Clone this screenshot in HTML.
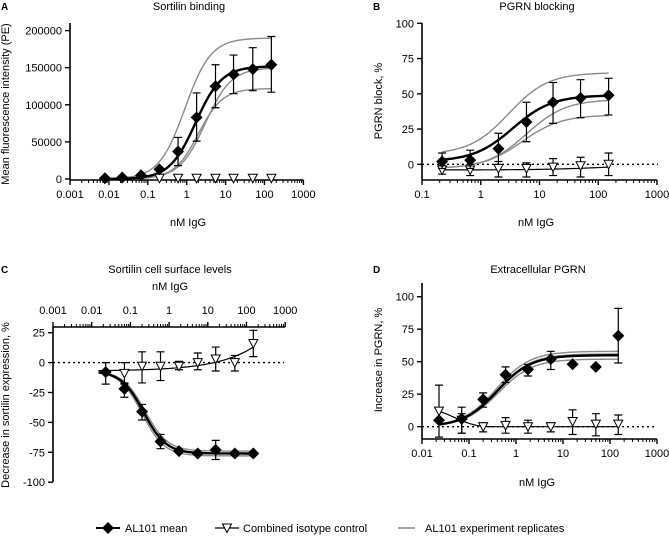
<!DOCTYPE html>
<html><head><meta charset="utf-8">
<style>
html,body{margin:0;padding:0;background:#fff;}
svg{display:block;font-family:"Liberation Sans",Arial,sans-serif;}
</style></head>
<body>
<svg id="fig" width="669" height="536" viewBox="0 0 669 536" xmlns="http://www.w3.org/2000/svg"></svg>
<script>
// ---- Data ----
// Panel A: Sortilin binding
const aDoses = [0.0079,0.022,0.067,0.2,0.6,1.8,5.5,16,50,150];
const aMean = [1000,2000,5000,13000,37000,83000,125000,141000,148000,154000];
const aErrLo = [null,null,null,null,18000,51000,96000,115000,119000,117000];
const aErrHi = [null,null,null,null,56000,116000,154000,167000,177000,192000];
const aIsoDoses = [0.2,0.6,1.8,5.5,16,50,150];
const aIso = [1000,1000,1000,1000,1000,1000,1000];
const aMeanFit = [0,152000,1.7,1.3];           // bottom, top, ec50, hill
const aRepFits = [[0,190000,0.9,1.3],[0,122000,2.0,1.4],[0,150000,3.0,1.3]];

// Panel B: PGRN blocking
const bDoses = [0.22,0.66,2,6,17,50,150];
const bMean = [2,3,11,30,44,47,49];
const bErrLo = [-3,-3,0,16,29,33,35];
const bErrHi = [8,10,22,44,58,60,61];
const bIso = [-4,-4,-3,-3,-2,-1,0];
const bIsoLo = [-7,-8,-9,-9,-8,-9,-8];
const bIsoHi = [-1,0,2,1,4,5,8];
const bMeanFit = [2,49,3.5,1.3];
const bRepFits = [[7,65,3,1.3],[-3,46,6,1.3],[-3,35,5,1.3]];
const bIsoFit = [-4,0,150,0.8];

// Panel C: Sortilin cell surface levels
const cDoses = [0.023,0.07,0.2,0.6,1.8,5.5,16,50,150];
const cMean = [-8,-22,-41,-66,-74,-76,-73,-76,-76];
const cErrLo = [-18,-29,-48,-72,null,null,-81,null,null];
const cErrHi = [0,-17,-35,-60,null,null,-65,null,null];
const cIsoDoses = [0.07,0.2,0.6,1.8,5.5,16,50,150];
const cIso = [-9,-3,-3,-3,0,3,0,16];
const cIsoLo = [-18,-17,-15,-6,-6,-7,-7,5];
const cIsoHi = [0,9,9,1,8,13,6,27];
const cMeanFit = [-7,-76,0.22,1.5];
const cRepFits = [[-7,-78,0.2,1.5],[-7,-74,0.24,1.5]];
const cIsoFit = [-7,20,150,0.45]; // base, amp, ref, exponent

// Panel D: Extracellular PGRN
const dDoses = [0.023,0.07,0.2,0.6,1.8,5.5,16,50,150];
const dMean = [5,6,21,40,44,52,48,46,70];
const dErrLo = [null,-5,15,34,39,44,null,null,49];
const dErrHi = [null,15,26,46,48,58,null,null,91];
const dIso = [12,5,0,1,0,0,4,2,2];
const dIsoLo = [-8,-5,-4,-5,-5,-4,-6,-7,-6];
const dIsoHi = [32,10,3,7,5,3,13,10,9];
const dMeanFit = [0,55,0.4,1.2];
const dRepFits = [[0,58,0.38,1.2],[0,52,0.42,1.2],[0,56,0.4,1.2]];

// ---- Drawing ----
const NS="http://www.w3.org/2000/svg";
const svg=document.getElementById('fig');
function el(tag,attrs,parent){const e=document.createElementNS(NS,tag);for(const k in attrs)e.setAttribute(k,attrs[k]);(parent||svg).appendChild(e);return e;}
function txt(s,attrs,parent){const t=el('text',attrs,parent);t.textContent=s;return t;}
function f4(p,x){return p[0]+(p[1]-p[0])/(1+Math.pow(p[2]/x,p[3]));}

function panel(cfg){
  const g=el('g',{});
  
  
  const X=v=>cfg.x0+(Math.log10(v)-cfg.lx0)*cfg.dec;
  const Y=v=>cfg.y0-(v)*cfg.ky;
  // letter & title
  const L=txt(cfg.letter,{x:cfg.letterX,y:cfg.letterY,'font-size':10,'font-weight':'bold'},g);
  
  const T=txt(cfg.title,{x:cfg.titleX,y:cfg.titleY,'font-size':11,'text-anchor':'middle'},g);
  
  // y axis
  const ya=el('line',{x1:cfg.x0,x2:cfg.x0,y1:cfg.yAxTop,y2:cfg.yAxBot,stroke:'#000','stroke-width':1.6},g);
  
  cfg.yTicks.forEach(v=>{
    el('line',{x1:cfg.x0-5,x2:cfg.x0,y1:Y(v),y2:Y(v),stroke:'#000','stroke-width':1.4},g);
    const t=txt(cfg.yFmt?cfg.yFmt(v):String(v),{x:cfg.x0-8,y:Y(v)+4,'font-size':11,'text-anchor':'end'},g);
    
  });
  const yt=txt(cfg.yTitle,{x:0,y:0,'font-size':11,'text-anchor':'middle',transform:`translate(${cfg.yTitleX},${cfg.yTitleY}) rotate(-90)`},g);
  
  // x axis
  const xa_y=cfg.xAxY, dir=cfg.top?-1:1;
  const xa=el('line',{x1:cfg.x0,x2:X(cfg.xMax),y1:xa_y,y2:xa_y,stroke:'#000','stroke-width':1.6},g);
  
  for(let d=cfg.lx0;d<=Math.log10(cfg.xMax)+1e-9;d++){
    const xv=X(Math.pow(10,d));
    el('line',{x1:xv,x2:xv,y1:xa_y,y2:xa_y+dir*5,stroke:'#000','stroke-width':1.4},g);
    const lab=Math.pow(10,d);
    const s=lab>=1?String(Math.round(lab)):lab.toFixed(-d);
    const t=txt(s,{x:xv,y:cfg.top?xa_y-13:xa_y+18,'font-size':11,'text-anchor':'middle'},g);
    
    if(d<Math.log10(cfg.xMax)-1e-9){
      for(let m=2;m<=9;m++){const mx=X(m*Math.pow(10,d));
        el('line',{x1:mx,x2:mx,y1:xa_y,y2:xa_y+dir*3,stroke:'#000','stroke-width':1},g);}
    }
  }
  const xt=txt('nM IgG',{x:cfg.xTitleX,y:cfg.xTitleY,'font-size':11,'text-anchor':'middle'},g);
  
  if(cfg.zeroLine){
    const z=el('line',{x1:cfg.x0,x2:cfg.zeroEnd,y1:Y(0),y2:Y(0),stroke:'#000','stroke-width':1.4,'stroke-dasharray':'2,3'},g);
    
  }
  const curve=(fn,x1,x2,stroke,w,name)=>{
    let d='';const n=120;
    for(let i=0;i<=n;i++){const lx=Math.log10(x1)+(Math.log10(x2)-Math.log10(x1))*i/n;const xv=Math.pow(10,lx);
      d+=(i?'L':'M')+X(xv).toFixed(2)+','+Y(fn(xv)).toFixed(2);}
    const p=el('path',{d:d,fill:'none',stroke:stroke,'stroke-width':w},g);
    
  };
  const c0=cfg.curveFrom, c1=cfg.curveTo;
  cfg.reps.forEach(p=>curve(x=>f4(p,x),c0,c1,'#8a8a8a',1.4,'replicate-curve'));
  if(cfg.isoFn) curve(cfg.isoFn,cfg.isoFrom||c0,c1,'#000',1.2,'isotype-curve');
  curve(x=>f4(cfg.meanFit,x),c0,c1,'#000',2.4,'mean-curve');
  const errbar=(x,lo,hi,name)=>{
    if(lo==null)return;
    const xp=X(x);
    const e=el('path',{d:`M${xp},${Y(lo)}V${Y(hi)}M${xp-4},${Y(lo)}h8M${xp-4},${Y(hi)}h8`,stroke:'#000','stroke-width':1.2,fill:'none'},g);
    
  };
  // isotype
  cfg.isoDoses.forEach((x,i)=>{
    if(cfg.isoLo) errbar(x,cfg.isoLo[i],cfg.isoHi[i],'isotype-error-bar');
    const xp=X(x),yp=Y(cfg.iso[i]);
    const t=el('polygon',{points:`${xp-4.5},${yp-4} ${xp+4.5},${yp-4} ${xp},${yp+4.5}`,fill:'#fff',stroke:'#000','stroke-width':1},g);
    
  });
  cfg.doses.forEach((x,i)=>{
    errbar(x,cfg.lo[i],cfg.hi[i],'mean-error-bar');
    const xp=X(x),yp=Y(cfg.mean[i]);
    const dm=el('polygon',{points:`${xp},${yp-6} ${xp+6},${yp} ${xp},${yp+6} ${xp-6},${yp}`,fill:'#000'},g);
    
  });
}

panel({name:'panel-a-sortilin-binding',letter:'A',letterX:1,letterY:10,title:'Sortilin binding',titleX:189,titleY:10,
  x0:70,lx0:-3,dec:38.9,xMax:1000,y0:179,ky:37.1/50000,yAxTop:23,yAxBot:180,xAxY:180,
  yTicks:[0,50000,100000,150000,200000],yTitle:'Mean fluorescence intensity (PE)',yTitleX:9,yTitleY:104,
  xTitleX:188,xTitleY:226,doses:aDoses,mean:aMean,lo:aErrLo,hi:aErrHi,isoDoses:aIsoDoses,iso:aIso,
  meanFit:aMeanFit,reps:aRepFits,curveFrom:0.0079,curveTo:150});

panel({name:'panel-b-pgrn-blocking',letter:'B',letterX:373,letterY:10,title:'PGRN blocking',titleX:537,titleY:10,
  x0:422,lx0:-1,dec:58.75,xMax:1000,y0:164.3,ky:35.25/25,yAxTop:23,yAxBot:180,xAxY:180,
  yTicks:[0,25,50,75,100],yTitle:'PGRN block, %',yTitleX:382,yTitleY:101,
  xTitleX:536,xTitleY:226,doses:bDoses,mean:bMean,lo:bErrLo,hi:bErrHi,isoDoses:bDoses,iso:bIso,isoLo:bIsoLo,isoHi:bIsoHi,
  meanFit:bMeanFit,reps:bRepFits,curveFrom:0.22,curveTo:150,isoFn:x=>f4(bIsoFit,x),zeroLine:true,zeroEnd:658});

panel({name:'panel-c-sortilin-surface',letter:'C',letterX:1,letterY:273,title:'Sortilin cell surface levels',titleX:170,titleY:273,
  x0:53,lx0:-3,dec:38.7,xMax:1000,y0:362.6,ky:29.9/25,yAxTop:327,yAxBot:482,xAxY:327,top:true,
  yTicks:[25,0,-25,-50,-75,-100],yTitle:'Decrease in sortilin expression, %',yTitleX:9,yTitleY:405,
  xTitleX:170,xTitleY:290,doses:cDoses,mean:cMean,lo:cErrLo,hi:cErrHi,isoDoses:cIsoDoses,iso:cIso,isoLo:cIsoLo,isoHi:cIsoHi,
  meanFit:cMeanFit,reps:cRepFits,curveFrom:0.015,curveTo:150,
  isoFn:x=>cIsoFit[0]+cIsoFit[1]*Math.pow(x/cIsoFit[2],cIsoFit[3]),zeroLine:true,zeroEnd:284});

panel({name:'panel-d-extracellular-pgrn',letter:'D',letterX:373,letterY:273,title:'Extracellular PGRN',titleX:538,titleY:273,
  x0:422,lx0:-2,dec:47,xMax:1000,y0:426.7,ky:32.5/25,yAxTop:283,yAxBot:439,xAxY:439,
  yTicks:[0,25,50,75,100],yTitle:'Increase in PGRN, %',yTitleX:382,yTitleY:360,
  xTitleX:537,xTitleY:486,doses:dDoses,mean:dMean,lo:dErrLo,hi:dErrHi,isoDoses:dDoses,iso:dIso,isoLo:dIsoLo,isoHi:dIsoHi,
  meanFit:dMeanFit,reps:dRepFits,curveFrom:0.023,curveTo:150,
  isoFn:x=>12*Math.exp(-(x-0.023)/0.05),zeroLine:true,zeroEnd:655});

// Legend
const lg=el('g',{});


el('line',{x1:96,x2:120,y1:528,y2:528,stroke:'#000','stroke-width':2},lg);
el('polygon',{points:'108,522 114,528 108,534 102,528',fill:'#000'},lg);
txt('AL101 mean',{x:125,y:532,'font-size':11},lg);
el('line',{x1:215,x2:239,y1:528,y2:528,stroke:'#000','stroke-width':1.2},lg);
el('polygon',{points:'222.5,524 231.5,524 227,532.5',fill:'#fff',stroke:'#000','stroke-width':1},lg);
txt('Combined isotype control',{x:243,y:532,'font-size':11},lg);
el('line',{x1:398,x2:415,y1:528,y2:528,stroke:'#8a8a8a','stroke-width':1.4},lg);
txt('AL101 experiment replicates',{x:425,y:532,'font-size':11},lg);
</script>
</body></html>
